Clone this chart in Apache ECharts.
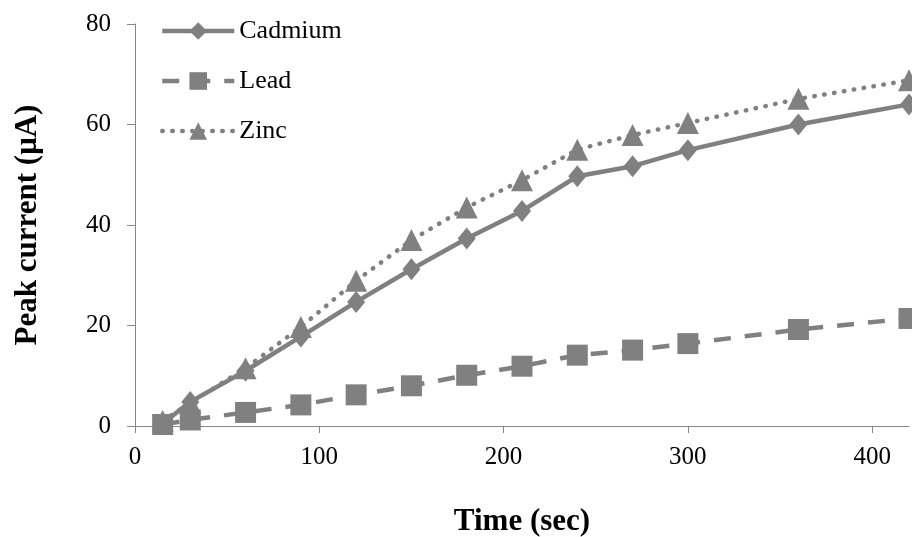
<!DOCTYPE html>
<html>
<head>
<meta charset="utf-8">
<script src="https://cdn.jsdelivr.net/npm/echarts@6/dist/echarts.min.js"></script>
<style>
html,body{margin:0;padding:0;background:#fff;}
#chart{width:912px;height:537px;}
</style>
</head>
<body>
<div id="chart"></div>
<script>
var times = [15, 30, 60, 90, 120, 150, 180, 210, 240, 270, 300, 360, 420];
var cadmium = [0.5, 4.8, 11.0, 17.8, 24.7, 31.2, 37.3, 42.8, 49.7, 51.7, 54.9, 60.0, 64.0];
var lead = [0.3, 1.2, 2.7, 4.2, 6.2, 8.0, 10.1, 11.9, 14.1, 15.1, 16.4, 19.2, 21.4];
var zinc = [1.0, 4.6, 11.5, 19.7, 28.9, 37.0, 43.5, 48.9, 55.0, 57.9, 60.3, 65.1, 68.8];
var xTicks = [0, 100, 200, 300, 400];
var yTicks = [0, 20, 40, 60, 80];
var seriesNames = ['Cadmium', 'Lead', 'Zinc'];

function pairs(ys) { return times.map(function (t, i) { return [t, ys[i]]; }); }

var gray = '#808080';
var axisColor = '#878787';
var font = '"Liberation Serif", "Times New Roman", serif';

var chart = echarts.init(document.getElementById('chart'), null, {renderer: 'canvas'});
chart.setOption({
  animation: false,
  backgroundColor: '#ffffff',
  grid: {left: 135, right: 3, top: 24, bottom: 111, containLabel: false, outerBoundsMode: 'none'},
  legend: {
    orient: 'vertical',
    left: 155,
    top: 13,
    itemWidth: 72,
    itemHeight: 22,
    itemGap: 24,
    data: [
      {name: seriesNames[0], lineStyle: {width: 4.5}},
      {name: seriesNames[1], lineStyle: {width: 4.5}},
      {name: seriesNames[2], lineStyle: {width: 4.5}}
    ],
    textStyle: {fontFamily: font, fontSize: 26, color: '#000', lineHeight: 26}
  },
  xAxis: {
    type: 'value',
    min: 0,
    max: 420,
    interval: 100,
    name: 'Time (sec)',
    nameLocation: 'middle',
    nameGap: 80,
    nameTextStyle: {fontFamily: font, fontSize: 31, fontWeight: 'bold', color: '#000'},
    splitLine: {show: false},
    axisLine: {show: true, lineStyle: {color: axisColor, width: 1}},
    axisTick: {show: true, length: 7, inside: false, lineStyle: {color: axisColor}, customValues: xTicks},
    axisLabel: {fontFamily: font, fontSize: 25, color: '#000', margin: 19, customValues: xTicks}
  },
  yAxis: {
    type: 'value',
    min: 0,
    max: 80,
    interval: 20,
    name: 'Peak current (μA)',
    nameLocation: 'middle',
    nameGap: 92,
    nameTextStyle: {fontFamily: font, fontSize: 31, fontWeight: 'bold', color: '#000'},
    splitLine: {show: false},
    axisLine: {show: true, lineStyle: {color: axisColor, width: 1}},
    axisTick: {show: true, length: 8, lineStyle: {color: axisColor}, customValues: yTicks},
    axisLabel: {fontFamily: font, fontSize: 25, color: '#000', margin: 24, customValues: yTicks}
  },
  series: [
    {
      name: seriesNames[0], type: 'line', data: pairs(cadmium), clip: false,
      symbol: 'diamond', symbolSize: [18, 22], z: 3,
      lineStyle: {color: gray, width: 4.5, type: 'solid'},
      itemStyle: {color: gray}
    },
    {
      name: seriesNames[1], type: 'line', data: pairs(lead), clip: false,
      symbol: 'rect', symbolSize: 21, z: 2,
      lineStyle: {color: gray, width: 4.5, type: [17, 14]},
      itemStyle: {color: gray}
    },
    {
      name: seriesNames[2], type: 'line', data: pairs(zinc), clip: false,
      symbol: 'triangle', symbolSize: 22, z: 1,
      lineStyle: {color: gray, width: 4.5, type: [0.5, 9.5], cap: 'round'},
      itemStyle: {color: gray}
    }
  ]
});
</script>
</body>
</html>
